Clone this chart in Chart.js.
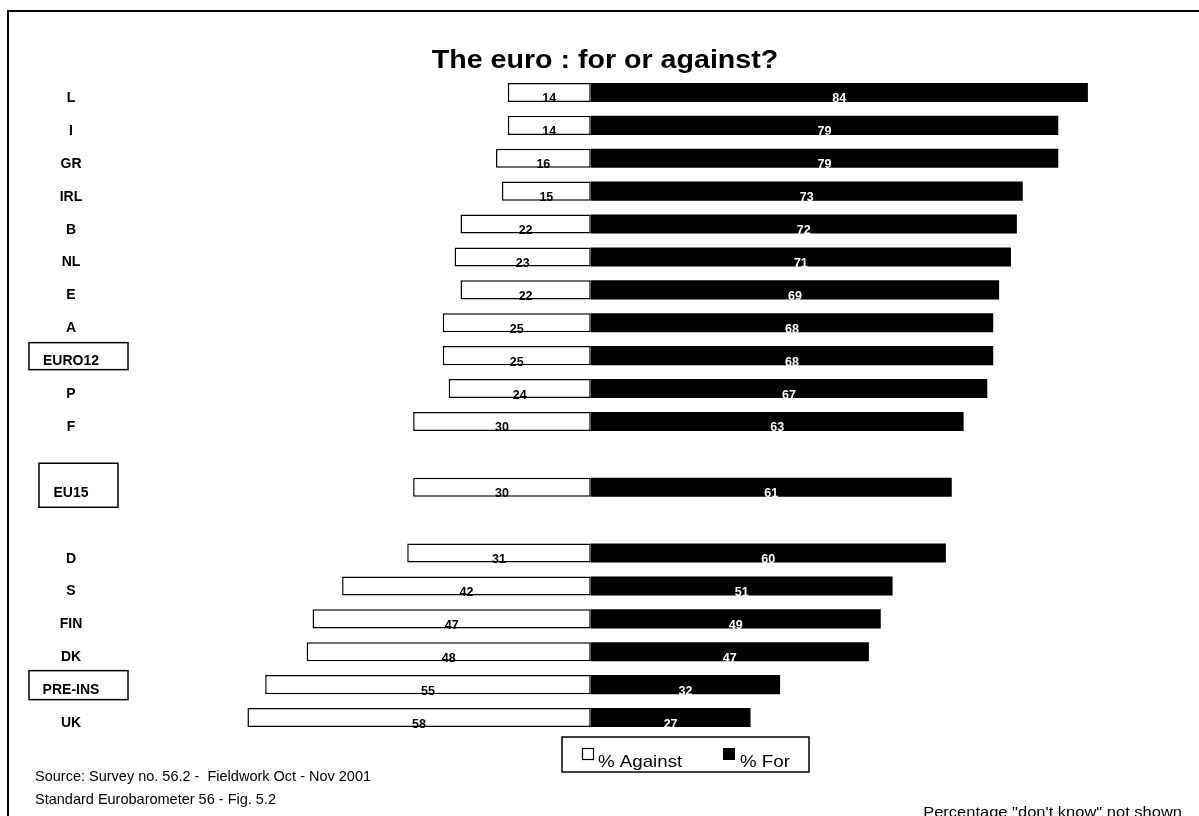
<!DOCTYPE html>
<html>
<head>
<meta charset="utf-8">
<script src="https://cdn.jsdelivr.net/npm/chart.js@4/dist/chart.umd.min.js"></script>
<style>
  html, body { margin: 0; padding: 0; background: #fff; overflow: hidden; }
  #wrap { position: relative; width: 1199px; height: 816px; }
</style>
</head>
<body>
<div id="wrap"><canvas id="c" width="1199" height="816"></canvas></div>
<script>
// Countries / groups, top to bottom (empty strings leave a blank row)
const categories = ['L', 'I', 'GR', 'IRL', 'B', 'NL', 'E', 'A', 'EURO12', 'P', 'F', '', 'EU15', '', 'D', 'S', 'FIN', 'DK', 'PRE-INS', 'UK'];
// % against the euro
const againstValues = [14, 14, 16, 15, 22, 23, 22, 25, 25, 24, 30, null, 30, null, 31, 42, 47, 48, 55, 58];
// % for the euro
const forValues = [84, 79, 79, 73, 72, 71, 69, 68, 68, 67, 63, null, 61, null, 60, 51, 49, 47, 32, 27];
const seriesLabels = ['% Against', '% For'];
const titleText = 'The euro : for or against?';
const sourceLines = ['Source: Survey no. 56.2 -  Fieldwork Oct - Nov 2001', 'Standard Eurobarometer 56 - Fig. 5.2'];
const noteText = 'Percentage "don\'t know" not shown';

const FONT = '"Liberation Sans", Arial, Helvetica, sans-serif';

// Framed group labels: box geometry relative to the row centre
const labelBoxes = {
  'EURO12':  { left: 29, right: 128, top: -13, bottom: 14 },
  'EU15':    { left: 39, right: 118, top: -24, bottom: 20 },
  'PRE-INS': { left: 29, right: 128, top: -14, bottom: 15 }
};

function drawText(ctx, text, x, y, font, color, align, stretch) {
  ctx.save();
  ctx.font = font;
  ctx.fillStyle = color;
  ctx.textAlign = align || 'left';
  ctx.textBaseline = 'alphabetic';
  ctx.translate(x, y);
  ctx.scale(stretch || 1, 1);
  ctx.fillText(text, 0, 0);
  ctx.restore();
}

const decorations = {
  id: 'decorations',
  afterDraw(chart) {
    const ctx = chart.ctx;
    const yScale = chart.scales.y;

    // outer frame
    ctx.save();
    ctx.strokeStyle = '#000';
    ctx.lineWidth = 2;
    ctx.strokeRect(8, 11, 1400, 1000);
    ctx.restore();

    // title
    drawText(ctx, titleText, 605, 68, 'bold 26px ' + FONT, '#000', 'center', 1.1);

    // row labels
    categories.forEach((cat, i) => {
      if (!cat) return;
      const yc = yScale.getPixelForValue(i);
      const box = labelBoxes[cat];
      if (box) {
        ctx.save();
        ctx.strokeStyle = '#000';
        ctx.lineWidth = 1.5;
        ctx.strokeRect(box.left, yc + box.top, box.right - box.left, box.bottom - box.top);
        ctx.restore();
      }
      drawText(ctx, cat, 71, yc + 9.5, 'bold 14px ' + FONT, '#000', 'center');
    });

    // value labels, centred in each segment, sitting on the bar's lower edge
    const series = [againstValues, forValues];
    chart.data.datasets.forEach((ds, di) => {
      const meta = chart.getDatasetMeta(di);
      meta.data.forEach((bar, i) => {
        const v = series[di][i];
        if (v == null) return;
        const cx = (bar.x + bar.base) / 2;
        const by = bar.y + bar.height / 2 + 0.5;
        drawText(ctx, String(v), cx, by, 'bold 12.5px ' + FONT, di === 0 ? '#000' : '#fff', 'center');
      });
    });

    // legend
    ctx.save();
    ctx.strokeStyle = '#000';
    ctx.lineWidth = 1.5;
    ctx.strokeRect(562, 737, 247, 35);
    ctx.lineWidth = 1.2;
    ctx.fillStyle = chart.data.datasets[0].backgroundColor;
    ctx.fillRect(582.5, 748.5, 11, 11);
    ctx.strokeRect(582.5, 748.5, 11, 11);
    ctx.fillStyle = chart.data.datasets[1].backgroundColor;
    ctx.fillRect(723, 748, 12, 12);
    ctx.restore();
    drawText(ctx, seriesLabels[0], 598, 767, '17px ' + FONT, '#000', 'left', 1.1);
    drawText(ctx, seriesLabels[1], 740, 767, '17px ' + FONT, '#000', 'left', 1.1);

    // source and note
    drawText(ctx, sourceLines[0], 35, 781, '14.5px ' + FONT, '#000', 'left');
    drawText(ctx, sourceLines[1], 35, 804, '14.5px ' + FONT, '#000', 'left');
    drawText(ctx, noteText, 1182, 817, '15px ' + FONT, '#000', 'right', 1.1);
  }
};

new Chart(document.getElementById('c'), {
  type: 'bar',
  data: {
    labels: categories,
    datasets: [
      {
        label: seriesLabels[0],
        data: againstValues.map(v => (v == null ? null : -v)),
        backgroundColor: '#ffffff',
        borderColor: '#000000',
        borderWidth: 1.5,
        borderSkipped: false
      },
      {
        label: seriesLabels[1],
        data: forValues,
        backgroundColor: '#000000',
        borderColor: '#000000',
        borderWidth: 0,
        borderSkipped: false
      }
    ]
  },
  options: {
    responsive: false,
    animation: false,
    indexAxis: 'y',
    layout: { padding: { left: 206, right: 46, top: 76, bottom: 82 } },
    datasets: { bar: { barPercentage: 0.58, categoryPercentage: 1 } },
    scales: {
      x: { stacked: true, min: -65, max: 95, display: false },
      y: { stacked: true, display: false, offset: true }
    },
    plugins: {
      legend: { display: false },
      title: { display: false },
      tooltip: { enabled: false }
    }
  },
  plugins: [decorations]
});
</script>
</body>
</html>
